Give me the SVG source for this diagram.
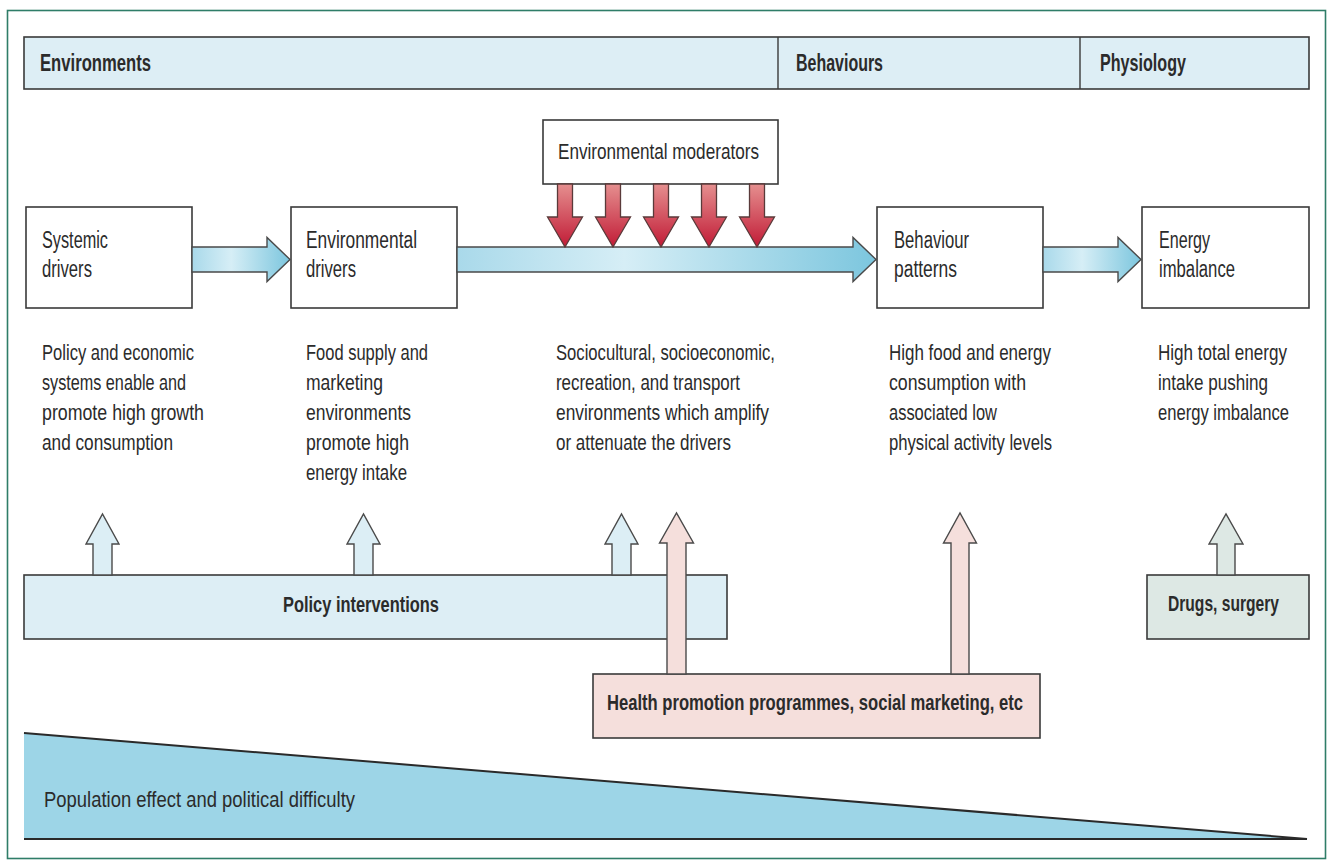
<svg xmlns="http://www.w3.org/2000/svg" width="1330" height="862" viewBox="0 0 1330 862">
<defs>
<style>
text{font-family:"Liberation Sans",Arial,sans-serif;fill:#2b2b2b}
.hd{font-size:24px;font-weight:bold}
.lb{font-size:23px}
.ds{font-size:22px}
.bt{font-size:22px;font-weight:bold}
.box{fill:#fff;stroke:#3a3a3a;stroke-width:1.6}
.band{fill:#ddeef5;stroke:#3a3a3a;stroke-width:1.6}
.harrow{fill:url(#hgrad);stroke:#4a4a4a;stroke-width:1.4}
.red{fill:url(#rgrad);stroke:#5a3a3a;stroke-width:1.3}
.upb{fill:#dceef5;stroke:#4a4a4a;stroke-width:1.4}
.upp{fill:#f5dfdc;stroke:#4a4a4a;stroke-width:1.4}
.upg{fill:#dde8e4;stroke:#4a4a4a;stroke-width:1.4}
</style>
<linearGradient id="hgrad" x1="0" y1="0" x2="1" y2="0">
<stop offset="0" stop-color="#a9d9ea"/>
<stop offset="0.4" stop-color="#d6eef6"/>
<stop offset="1" stop-color="#7cc6de"/>
</linearGradient>
<linearGradient id="rgrad" x1="0" y1="0" x2="0" y2="1">
<stop offset="0" stop-color="#e58f8f"/>
<stop offset="1" stop-color="#c11b36"/>
</linearGradient>
</defs>
<rect x="0" y="0" width="1330" height="862" fill="#fff"/>
<rect x="7.5" y="10.5" width="1318" height="848" fill="none" stroke="#2f7d68" stroke-width="1.6"/>

<g id="header">
<rect class="band" x="24" y="37" width="1285" height="52"/>
<line x1="778" y1="37" x2="778" y2="89" stroke="#3a3a3a" stroke-width="1.4"/>
<line x1="1080" y1="37" x2="1080" y2="89" stroke="#3a3a3a" stroke-width="1.4"/>
<text class="hd" x="40" y="71" textLength="111" lengthAdjust="spacingAndGlyphs">Environments</text>
<text class="hd" x="796" y="71" textLength="87" lengthAdjust="spacingAndGlyphs">Behaviours</text>
<text class="hd" x="1100" y="71" textLength="86" lengthAdjust="spacingAndGlyphs">Physiology</text>
</g>

<g id="node-systemic">
<rect class="box" x="26" y="207" width="166" height="101"/>
<text class="lb" x="42" y="248" textLength="66" lengthAdjust="spacingAndGlyphs">Systemic</text>
<text class="lb" x="42" y="277" textLength="50" lengthAdjust="spacingAndGlyphs">drivers</text>
<text class="ds" x="42" y="360" textLength="152" lengthAdjust="spacingAndGlyphs">Policy and economic</text>
<text class="ds" x="42" y="390" textLength="144" lengthAdjust="spacingAndGlyphs">systems enable and</text>
<text class="ds" x="42" y="420" textLength="162" lengthAdjust="spacingAndGlyphs">promote high growth</text>
<text class="ds" x="42" y="450" textLength="131" lengthAdjust="spacingAndGlyphs">and consumption</text>
</g>

<g id="node-environmental">
<rect class="box" x="291" y="207" width="166" height="101"/>
<text class="lb" x="306" y="248" textLength="111" lengthAdjust="spacingAndGlyphs">Environmental</text>
<text class="lb" x="306" y="277" textLength="50" lengthAdjust="spacingAndGlyphs">drivers</text>
<text class="ds" x="306" y="360" textLength="122" lengthAdjust="spacingAndGlyphs">Food supply and</text>
<text class="ds" x="306" y="390" textLength="77" lengthAdjust="spacingAndGlyphs">marketing</text>
<text class="ds" x="306" y="420" textLength="105" lengthAdjust="spacingAndGlyphs">environments</text>
<text class="ds" x="306" y="450" textLength="103" lengthAdjust="spacingAndGlyphs">promote high</text>
<text class="ds" x="306" y="480" textLength="101" lengthAdjust="spacingAndGlyphs">energy intake</text>
</g>

<g id="node-moderators">
<rect class="box" x="543" y="120" width="235" height="64"/>
<text class="ds" x="558" y="159" textLength="201" lengthAdjust="spacingAndGlyphs">Environmental moderators</text>
<text class="ds" x="556" y="360" textLength="219" lengthAdjust="spacingAndGlyphs">Sociocultural, socioeconomic,</text>
<text class="ds" x="556" y="390" textLength="184" lengthAdjust="spacingAndGlyphs">recreation, and transport</text>
<text class="ds" x="556" y="420" textLength="213" lengthAdjust="spacingAndGlyphs">environments which amplify</text>
<text class="ds" x="556" y="450" textLength="175" lengthAdjust="spacingAndGlyphs">or attenuate the drivers</text>
</g>

<g id="node-behaviour">
<rect class="box" x="877" y="207" width="166" height="101"/>
<text class="lb" x="894" y="248" textLength="75" lengthAdjust="spacingAndGlyphs">Behaviour</text>
<text class="lb" x="894" y="277" textLength="63" lengthAdjust="spacingAndGlyphs">patterns</text>
<text class="ds" x="889" y="360" textLength="162" lengthAdjust="spacingAndGlyphs">High food and energy</text>
<text class="ds" x="889" y="390" textLength="137" lengthAdjust="spacingAndGlyphs">consumption with</text>
<text class="ds" x="889" y="420" textLength="108" lengthAdjust="spacingAndGlyphs">associated low</text>
<text class="ds" x="889" y="450" textLength="163" lengthAdjust="spacingAndGlyphs">physical activity levels</text>
</g>

<g id="node-energy">
<rect class="box" x="1142" y="207" width="167" height="101"/>
<text class="lb" x="1159" y="248" textLength="51" lengthAdjust="spacingAndGlyphs">Energy</text>
<text class="lb" x="1159" y="277" textLength="76" lengthAdjust="spacingAndGlyphs">imbalance</text>
<text class="ds" x="1158" y="360" textLength="129" lengthAdjust="spacingAndGlyphs">High total energy</text>
<text class="ds" x="1158" y="390" textLength="110" lengthAdjust="spacingAndGlyphs">intake pushing</text>
<text class="ds" x="1158" y="420" textLength="131" lengthAdjust="spacingAndGlyphs">energy imbalance</text>
</g>

<g id="node-policy">
<rect class="band" x="24" y="575" width="703" height="64"/>
<text class="bt" x="283" y="612" textLength="156" lengthAdjust="spacingAndGlyphs">Policy interventions</text>
</g>

<g id="node-drugs">
<rect x="1147" y="575" width="162" height="64" fill="#dde8e4" stroke="#3a3a3a" stroke-width="1.6"/>
<text class="bt" x="1168" y="611" textLength="111" lengthAdjust="spacingAndGlyphs">Drugs, surgery</text>
</g>

<g id="node-health">
<rect x="593" y="674" width="447" height="64" fill="#f5dfdc" stroke="#3a3a3a" stroke-width="1.6"/>
<text class="bt" x="607" y="710" textLength="416" lengthAdjust="spacingAndGlyphs">Health promotion programmes, social marketing, etc</text>
</g>

<g id="node-population">
<polygon points="24,733 1307,839 24,839" fill="#9dd5e7"/>
<polyline points="24,733 1307,839 24,839" fill="none" stroke="#2a2a2a" stroke-width="2"/>
<text class="ds" x="44" y="807" textLength="311" lengthAdjust="spacingAndGlyphs">Population effect and political difficulty</text>
</g>

<g id="connectors">
<polygon class="harrow" points="192,247 267,247 267,237.5 290,259.5 267,281.5 267,272 192,272"/>
<polygon class="harrow" points="457,247 853,247 853,237.5 876,259.5 853,281.5 853,272 457,272"/>
<polygon class="harrow" points="1043,247 1118,247 1118,237.5 1141,259.5 1118,281.5 1118,272 1043,272"/>

<polygon class="red" points="557.5,184 572.5,184 572.5,217 582.5,217 565,247 547.5,217 557.5,217"/>
<polygon class="red" points="605.5,184 620.5,184 620.5,217 630.5,217 613,247 595.5,217 605.5,217"/>
<polygon class="red" points="653.5,184 668.5,184 668.5,217 678.5,217 661,247 643.5,217 653.5,217"/>
<polygon class="red" points="701.5,184 716.5,184 716.5,217 726.5,217 709,247 691.5,217 701.5,217"/>
<polygon class="red" points="749.5,184 764.5,184 764.5,217 774.5,217 757,247 739.5,217 749.5,217"/>

<polygon class="upb" points="93,575 93,544 86,544 102.5,514 119,544 112,544 112,575"/>
<polygon class="upb" points="354,575 354,544 347,544 363.5,514 380,544 373,544 373,575"/>
<polygon class="upb" points="612,575 612,544 605,544 621.5,514 638,544 631,544 631,575"/>

<polygon class="upp" points="667,674 667,543 659.5,543 676.5,513 693.5,543 686,543 686,674"/>
<polygon class="upp" points="951,674 951,543 943.5,543 960,513 976.5,543 969,543 969,674"/>

<polygon class="upg" points="1217,575 1217,544 1209,544 1226,514 1243,544 1235,544 1235,575"/>
</g>
</svg>
